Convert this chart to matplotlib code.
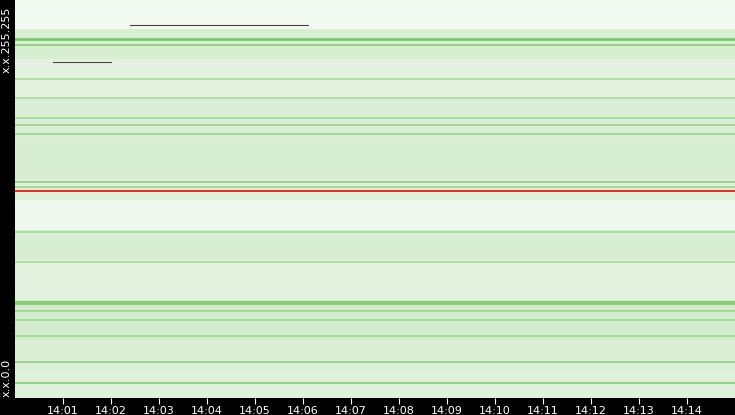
import numpy as np
import matplotlib.pyplot as plt
from matplotlib.colors import to_rgba

# time axis in minutes after 14:00, address axis in pixel rows (0 = x.x.255.255 side at top)
tick_minutes = list(range(1, 15))
tick_labels = ["14:%02d" % m for m in tick_minutes]

# speckle density per address band (top row, bottom row, density)
bands = [
    (0, 30, 0.10), (30, 60, 0.30), (60, 100, 0.22), (100, 140, 0.28),
    (140, 180, 0.30), (180, 200, 0.25), (200, 230, 0.12), (230, 260, 0.30),
    (260, 300, 0.22), (300, 340, 0.35), (340, 370, 0.28), (370, 398, 0.25),
]
# steady green lines (row, strength)
green_rows = [39, 40, 45, 79, 98, 118, 125, 134, 182, 187, 232, 262,
              302, 304, 311, 320, 336, 362, 383]
green_alpha = [0.9, 0.9, 0.8, 0.5, 0.5, 0.5, 0.6, 0.6, 0.7, 0.6, 0.5, 0.5,
               0.9, 0.8, 0.5, 0.5, 0.5, 0.7, 0.8]
red_row = 191
# short dark streaks (row, start minute, end minute)
dark_streaks = [(25, 2.4, 6.1), (62, 0.8, 2.0)]

n_rows = 398
density = np.zeros(n_rows)
for y0, y1, d in bands:
    density[y0:y1] = d

fig = plt.figure(figsize=(7.35, 4.15), dpi=100, facecolor="black")
ax = fig.add_axes([15 / 735, 17 / 415, 720 / 735, 398 / 415])
ax.set_facecolor("white")

img = np.zeros((n_rows, 1, 4))
img[:, 0, :3] = to_rgba("#7dc86a")[:3]
img[:, 0, 3] = density
ax.imshow(img, aspect="auto", extent=[0, 15, n_rows, 0], interpolation="nearest")

for row, a in zip(green_rows, green_alpha):
    ax.axhline(row, color="#6cc45a", lw=1.2, alpha=a)
ax.axhline(red_row, color="red", lw=1.2)
for row, x0, x1 in dark_streaks:
    ax.plot([x0, x1], [row, row], color="#444444", lw=0.8)

ax.set_xlim(0, 15)
ax.set_ylim(n_rows, 0)
ax.set_xticks(tick_minutes)
ax.set_xticklabels(tick_labels, color="white", fontsize=8)
ax.tick_params(axis="x", colors="white", length=4, pad=2)
ax.set_yticks([])
for s in ax.spines.values():
    s.set_visible(False)

fig.text(7 / 735, 1 - 40 / 415, "x.x.255.255", color="white", rotation=90,
         ha="center", va="center", fontsize=8)
fig.text(7 / 735, 1 - 378 / 415, "x.x.0.0", color="white", rotation=90,
         ha="center", va="center", fontsize=8)

plt.savefig("out.png", facecolor="black")
